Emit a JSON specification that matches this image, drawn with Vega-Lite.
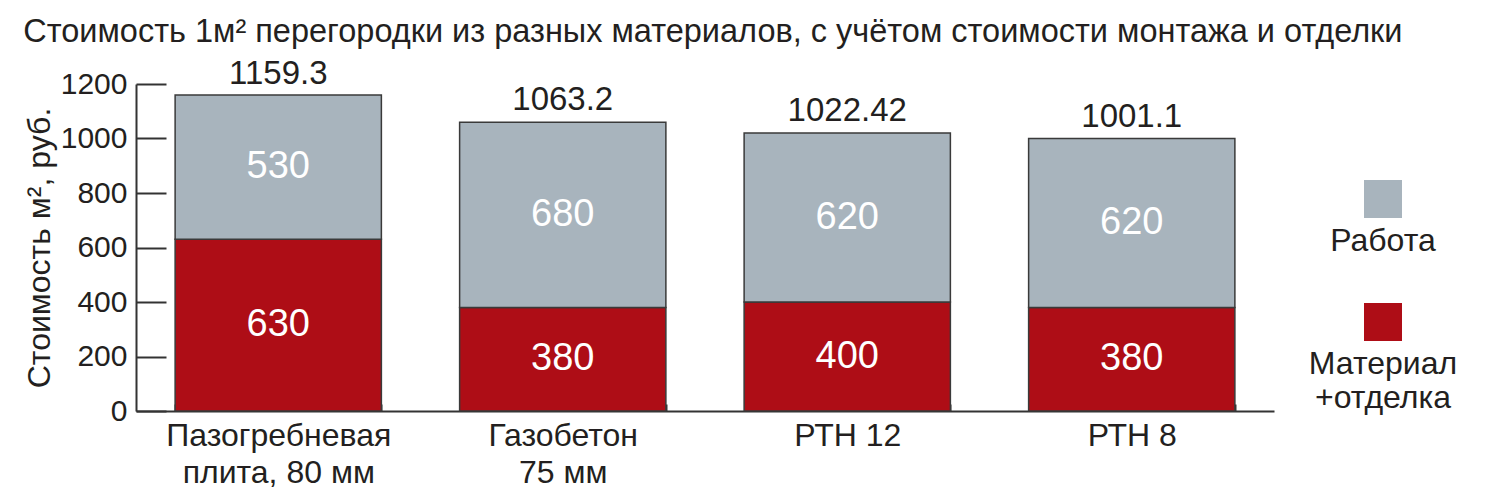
{
  "$schema": "https://vega.github.io/schema/vega-lite/v6.json",
  "width": 1138,
  "height": 327,
  "autosize": {"type": "none"},
  "padding": {"left": 136, "top": 84, "right": 213, "bottom": 85},
  "background": "white",
  "config": {
    "view": {"stroke": null},
    "font": "Liberation Sans",
    "axis": {
      "domainColor": "#333333",
      "domainWidth": 2,
      "tickColor": "#333333",
      "tickWidth": 2,
      "labelColor": "#231f20",
      "labelFont": "Liberation Sans",
      "titleFont": "Liberation Sans",
      "titleColor": "#231f20",
      "grid": false
    },
    "legend": {"labelFont": "Liberation Sans", "labelColor": "#231f20"}
  },
  "title": {
    "text": "Стоимость 1м² перегородки из разных материалов, с учётом стоимости монтажа и отделки",
    "anchor": "start",
    "fontSize": 32.5,
    "fontWeight": "normal",
    "font": "Liberation Sans",
    "color": "#231f20",
    "offset": 10
  },
  "datasets": {
    "segments": [
      {"material": "Пазогребневая плита, 80 мм", "type": "Материал+отделка", "value": 630},
      {"material": "Пазогребневая плита, 80 мм", "type": "Работа", "value": 530},
      {"material": "Газобетон 75 мм", "type": "Материал+отделка", "value": 380},
      {"material": "Газобетон 75 мм", "type": "Работа", "value": 680},
      {"material": "РТН 12", "type": "Материал+отделка", "value": 400},
      {"material": "РТН 12", "type": "Работа", "value": 620},
      {"material": "РТН 8", "type": "Материал+отделка", "value": 380},
      {"material": "РТН 8", "type": "Работа", "value": 620}
    ],
    "totals": [
      {"material": "Пазогребневая плита, 80 мм", "total": 1159.3},
      {"material": "Газобетон 75 мм", "total": 1063.2},
      {"material": "РТН 12", "total": 1022.42},
      {"material": "РТН 8", "total": 1001.1}
    ]
  },
  "data": {"name": "segments"},
  "layer": [
    {
      "mark": {"type": "bar", "stroke": "#3a3a3a", "strokeWidth": 1.5},
      "encoding": {
        "x": {
          "field": "material",
          "type": "nominal",
          "sort": ["Пазогребневая плита, 80 мм", "Газобетон 75 мм", "РТН 12", "РТН 8"],
          "scale": {"paddingInner": 0.275, "paddingOuter": 0.1375},
          "axis": {
            "title": null,
            "labelAngle": 0,
            "labelFontSize": 32,
            "labelLineHeight": 37,
            "labelPadding": 16,
            "labelLimit": 500,
            "tickBand": "extent",
            "tickSize": -7,
            "labelExpr": "datum.value == 'Пазогребневая плита, 80 мм' ? ['Пазогребневая', 'плита, 80 мм'] : datum.value == 'Газобетон 75 мм' ? ['Газобетон', '75 мм'] : datum.value"
          }
        },
        "y": {
          "field": "value",
          "type": "quantitative",
          "stack": "zero",
          "title": "Стоимость м², руб.",
          "scale": {"domain": [0, 1200], "nice": false},
          "axis": {
            "values": [0, 200, 400, 600, 800, 1000, 1200],
            "format": "d",
            "labelFontSize": 30,
            "tickSize": -30,
            "labelPadding": 39,
            "titleFontSize": 32,
            "titleFontWeight": "normal",
            "titlePadding": 4
          }
        },
        "color": {
          "field": "type",
          "type": "nominal",
          "scale": {"domain": ["Работа", "Материал+отделка"], "range": ["#a8b4bd", "#ae0d16"]},
          "legend": {
            "title": null,
            "orient": "none",
            "legendX": 1228,
            "legendY": 123,
            "padding": 0,
            "symbolType": "M -1 -2.42 H 1 V -0.42 H -1 Z",
            "symbolSize": 1444,
            "symbolStrokeWidth": 0,
            "labelFontSize": 32,
            "labelAlign": "center",
            "labelBaseline": "top",
            "labelOffset": -19,
            "labelLimit": 300,
            "rowPadding": 46,
            "labelExpr": "datum.label == 'Материал+отделка' ? ['Материал', '+отделка'] : datum.label"
          }
        },
        "order": {"field": "type", "sort": "ascending"}
      }
    },
    {
      "transform": [
        {"stack": "value", "groupby": ["material"], "sort": [{"field": "type", "order": "ascending"}], "as": ["v0", "v1"]},
        {"fold": ["v0", "v1"], "as": ["edge", "pos"]}
      ],
      "mark": {"type": "text", "color": "white", "fontSize": 38, "font": "Liberation Sans", "baseline": "middle"},
      "encoding": {
        "x": {"field": "material", "type": "nominal", "sort": ["Пазогребневая плита, 80 мм", "Газобетон 75 мм", "РТН 12", "РТН 8"]},
        "y": {"aggregate": "mean", "field": "pos", "type": "quantitative", "title": "Стоимость м², руб."},
        "detail": {"field": "type"},
        "text": {"field": "value", "type": "quantitative"}
      }
    },
    {
      "data": {"name": "totals"},
      "mark": {"type": "text", "color": "#231f20", "fontSize": 33, "font": "Liberation Sans", "baseline": "alphabetic", "dy": -11},
      "encoding": {
        "x": {"field": "material", "type": "nominal", "sort": ["Пазогребневая плита, 80 мм", "Газобетон 75 мм", "РТН 12", "РТН 8"]},
        "y": {"field": "total", "type": "quantitative", "title": "Стоимость м², руб."},
        "text": {"field": "total", "type": "quantitative", "format": ".2~f"}
      }
    }
  ]
}
